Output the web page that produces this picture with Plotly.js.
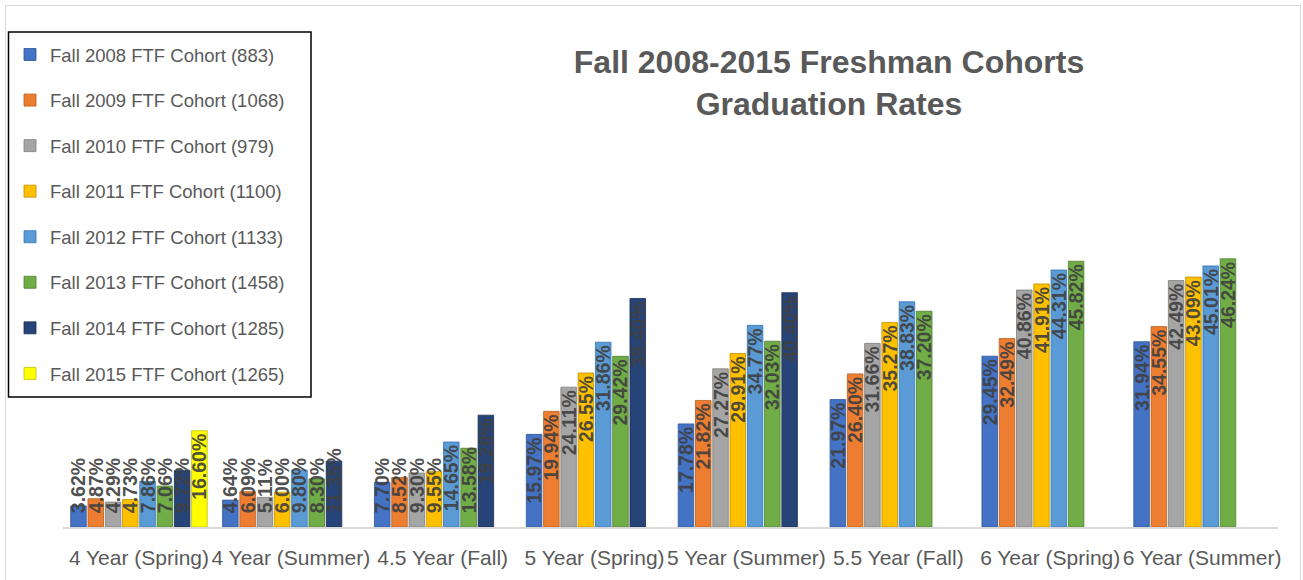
<!DOCTYPE html>
<html>
<head>
<meta charset="utf-8">
<script src="https://cdn.plot.ly/plotly-3.0.1.min.js"></script>
<style>
  html, body { margin: 0; padding: 0; background: #ffffff; }
  #wrap { position: relative; width: 1303px; height: 580px; overflow: hidden; }
  #chart { position: absolute; left: 0; top: 0; width: 1303px; height: 580px; }
  #frame { position: absolute; left: 5px; top: 5px; width: 1294px; height: 620px;
           border: 1px solid #d9d9d9; pointer-events: none; }
</style>
</head>
<body>
<div id="wrap">
  <div id="chart"></div>
  <div id="frame"></div>
</div>
<script>
// ---- Data ----
var categories = ["4 Year (Spring)", "4 Year (Summer)", "4.5 Year (Fall)", "5 Year (Spring)",
                  "5 Year (Summer)", "5.5 Year (Fall)", "6 Year (Spring)", "6 Year (Summer)"];

var seriesNames = ["Fall 2008 FTF Cohort (883)", "Fall 2009 FTF Cohort (1068)",
                   "Fall 2010 FTF Cohort (979)", "Fall 2011 FTF Cohort (1100)",
                   "Fall 2012 FTF Cohort (1133)", "Fall 2013 FTF Cohort (1458)",
                   "Fall 2014 FTF Cohort (1285)", "Fall 2015 FTF Cohort (1265)"];

var fall2008 = [3.62, 4.64, 7.70, 15.97, 17.78, 21.97, 29.45, 31.94];
var fall2009 = [4.87, 6.09, 8.52, 19.94, 21.82, 26.40, 32.49, 34.55];
var fall2010 = [4.29, 5.11, 9.30, 24.11, 27.27, 31.66, 40.86, 42.49];
var fall2011 = [4.73, 6.00, 9.55, 26.55, 29.91, 35.27, 41.91, 43.09];
var fall2012 = [7.86, 9.80, 14.65, 31.86, 34.77, 38.83, 44.31, 45.01];
var fall2013 = [7.06, 8.30, 13.58, 29.42, 32.03, 37.20, 45.82, 46.24];
var fall2014 = [9.72, 11.35, 19.28, 39.40, 40.40, null, null, null];
var fall2015 = [16.60, null, null, null, null, null, null, null];

var seriesValues = [fall2008, fall2009, fall2010, fall2011, fall2012, fall2013, fall2014, fall2015];

var seriesColors = ["#4472C4", "#ED7D31", "#A5A5A5", "#FFC000",
                    "#5B9BD5", "#70AD47", "#264478", "#FFFF00"];
var seriesEdges  = ["#2F5597", "#B85E1C", "#7F7F7F", "#C09000",
                    "#2E75B6", "#507E32", "#1A2F55", "#BFBF00"];

// Labels that fit in the bar sit at its top; shorter ones rise from its base.
var labelFitThreshold = 14;

var labelFont = { family: "Liberation Sans, Arial, sans-serif", size: 19.5,
                  color: "rgba(64,64,64,0.92)", weight: "bold" };

// ---- Traces ----
var traces = [];
seriesValues.forEach(function (vals, i) {
  var tall = vals.map(function (v) { return (v !== null && v >= labelFitThreshold) ? v : null; });
  var short = vals.map(function (v) { return (v !== null && v < labelFitThreshold) ? v : null; });
  var common = {
    type: "bar",
    x: categories,
    offsetgroup: "g" + i,
    legendgroup: "g" + i,
    name: seriesNames[i],
    marker: { color: seriesColors[i], line: { color: seriesEdges[i], width: 0.8 } },
    textposition: "inside",
    textangle: -90,
    constraintext: "none",
    cliponaxis: false,
    textfont: labelFont,
    insidetextfont: labelFont,
    hoverinfo: "x+y+name"
  };
  traces.push(Object.assign({}, common, {
    y: tall,
    text: tall.map(function (v) { return v === null ? "" : v.toFixed(2) + "%"; }),
    insidetextanchor: "end",
    showlegend: true
  }));
  traces.push(Object.assign({}, common, {
    y: short,
    text: short.map(function (v) { return v === null ? "" : "\u00a0\u00a0" + v.toFixed(2) + "%"; }),
    insidetextanchor: "start",
    showlegend: false
  }));
});

var plotTop = 237, plotBottom = 527, plotLeft = 63, plotRight = 1278;
var plotH = plotBottom - plotTop, plotW = plotRight - plotLeft;
function px2x(p) { return (p - plotLeft) / plotW; }
function px2y(p) { return (plotBottom - p) / plotH; }

var layout = {
  width: 1303,
  height: 580,
  paper_bgcolor: "rgba(0,0,0,0)",
  plot_bgcolor: "rgba(0,0,0,0)",
  margin: { l: plotLeft, r: 1303 - plotRight, t: plotTop, b: 580 - plotBottom, pad: 0, autoexpand: false },
  barmode: "group",
  bargap: 0.09,
  bargroupgap: 0.1,
  font: { family: "Liberation Sans, Arial, sans-serif", color: "#595959" },
  title: {
    text: "Fall 2008-2015 Freshman Cohorts<br>Graduation Rates",
    font: { family: "Liberation Sans, Arial, sans-serif", size: 32, color: "#595959", weight: "bold" },
    x: 829 / 1303,
    xanchor: "center",
    xref: "container",
    y: 1 - 73 / 580,
    yanchor: "top",
    yref: "container"
  },
  xaxis: {
    type: "category",
    tickangle: 0,
    showline: true,
    linecolor: "#d9d9d9",
    linewidth: 2,
    showgrid: false,
    ticks: "",
    ticklabelstandoff: 11,
    tickfont: { family: "Liberation Sans, Arial, sans-serif", size: 21, color: "#595959" },
    fixedrange: true
  },
  yaxis: {
    range: [0, 50],
    visible: false,
    showgrid: false,
    zeroline: false,
    fixedrange: true
  },
  showlegend: true,
  legend: {
    x: px2x(10),
    xanchor: "left",
    y: px2y(36),
    yanchor: "top",
    bgcolor: "rgba(0,0,0,0)",
    borderwidth: 0,
    traceorder: "grouped",
    tracegroupgap: 18.5,
    maxheight: 1,
    font: { family: "Liberation Sans, Arial, sans-serif", size: 18.5, color: "#595959" }
  },
  shapes: [{
    type: "rect",
    xref: "paper", yref: "paper",
    x0: px2x(8.5), x1: px2x(311), y0: px2y(32), y1: px2y(397),
    line: { color: "#000000", width: 1.5 },
    fillcolor: "rgba(0,0,0,0)",
    layer: "above"
  }]
};

Plotly.newPlot("chart", traces, layout, { displayModeBar: false });
</script>
</body>
</html>
